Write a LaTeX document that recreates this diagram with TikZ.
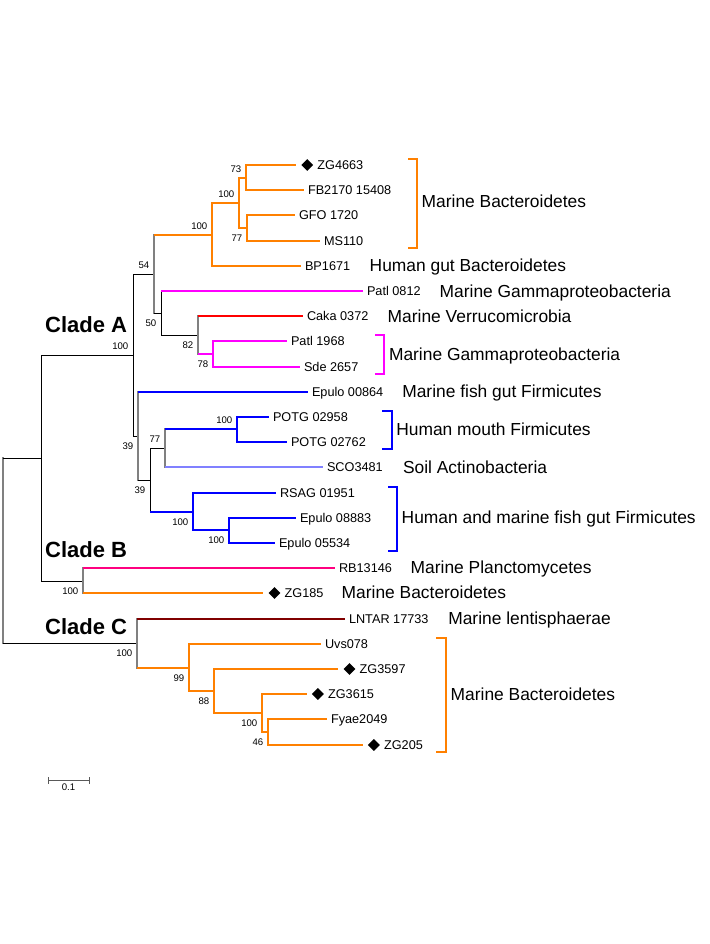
\documentclass[tikz,border=0pt]{standalone}
\usepackage{fontspec}
\setmainfont{Liberation Sans}
\usetikzlibrary{positioning, shapes.geometric}
\definecolor{brorange}{RGB}{255,128,0}
\definecolor{brmagenta}{RGB}{255,0,255}
\definecolor{brred}{RGB}{255,0,0}
\definecolor{brblue}{RGB}{0,0,255}
\definecolor{brlight}{RGB}{128,128,255}
\definecolor{brpink}{RGB}{255,0,128}
\definecolor{brdark}{RGB}{128,0,0}
\definecolor{brgray}{RGB}{128,128,128}

\begin{document}
\begin{tikzpicture}[
     x = 1pt, y = -1pt,
     node distance = 0pt and 0pt,
      leaf/.style = {anchor=west, inner xsep=3.8pt, inner ysep=0pt,
                     text height=9pt, text depth=0pt,
                     font=\fontsize{12.7}{14}\selectfont},
     group/.style = {anchor=west, inner sep=0pt,
                     text height=12.5pt, text depth=0pt,
                     font=\fontsize{17.4}{20}\selectfont},
     clade/.style = {anchor=west, inner sep=0pt,
                     text height=15.8pt, text depth=0pt,
                     font=\bfseries\fontsize{22}{26}\selectfont},
       bsa/.style = {anchor=south east, inner sep=1.5pt, xshift=-3pt, yshift=4pt,
                     font=\fontsize{9.6}{11}\selectfont},
       bsb/.style = {anchor=north east, inner sep=1.5pt, xshift=-3pt, yshift=-5pt,
                     font=\fontsize{9.6}{11}\selectfont},
       dmd/.style = {diamond, fill=black, inner sep=0pt, minimum size=12pt, anchor=west},
        br/.style = {line width=2pt, draw=#1},
       blk/.style = {line width=1pt, draw=black, line cap=rect},
      vert/.style = {line width=1.4pt, draw=brgray, line cap=rect}
                        ]
\useasboundingbox (0,0) rectangle (709,944);

% inner nodes
\coordinate (root) at (3,550.5);
\coordinate (nab) at (41,458);
\coordinate (na) at (133,355);
\coordinate (nb) at (83,581);
\coordinate (nc) at (137,643);
\coordinate (n54) at (154,274);
\coordinate (n212) at (212,235);
\coordinate (n239) at (239,203);
\coordinate (n73) at (246,178);
\coordinate (n77a) at (247,228);
\coordinate (n50) at (161,313);
\coordinate (n82) at (198,335);
\coordinate (n78) at (213,354);
\coordinate (n39a) at (138,436);
\coordinate (n39b) at (150,480);
\coordinate (n77b) at (165,448);
\coordinate (npotg) at (237,429);
\coordinate (nrsag) at (193,512);
\coordinate (nep) at (229,530);
\coordinate (n99) at (189,668);
\coordinate (n88) at (214,691);
\coordinate (n100c) at (262,713);
\coordinate (n46) at (268,732);

% leaves
\node (dzg4663) [dmd] at (301,165) {};
\node (zg4663) [leaf, right=of dzg4663] {ZG4663};
\node (fb2170) [leaf] at (304,190) {FB2170 15408};
\node (gfo1720) [leaf] at (295,215) {GFO 1720};
\node (ms110) [leaf] at (320,241) {MS110};
\node (bp1671) [leaf] at (301,266) {BP1671};
\node (patl0812) [leaf] at (363,291) {Patl 0812};
\node (caka0372) [leaf] at (303,316) {Caka 0372};
\node (patl1968) [leaf] at (287,341) {Patl 1968};
\node (sde2657) [leaf] at (300,367) {Sde 2657};
\node (epulo00864) [leaf] at (308,392) {Epulo 00864};
\node (potg02958) [leaf] at (269,417) {POTG 02958};
\node (potg02762) [leaf] at (287,442) {POTG 02762};
\node (sco3481) [leaf] at (323,467) {SCO3481};
\node (rsag01951) [leaf] at (276,493) {RSAG 01951};
\node (epulo08883) [leaf] at (296,518) {Epulo 08883};
\node (epulo05534) [leaf] at (275,543) {Epulo 05534};
\node (rb13146) [leaf] at (335,568) {RB13146};
\node (dzg185) [dmd] at (268.3,593) {};
\node (zg185) [leaf, right=of dzg185] {ZG185};
\node (lntar) [leaf] at (345,619) {LNTAR 17733};
\node (uvs078) [leaf] at (321,644) {Uvs078};
\node (dzg3597) [dmd] at (343.3,669) {};
\node (zg3597) [leaf, right=of dzg3597] {ZG3597};
\node (dzg3615) [dmd] at (311.7,694) {};
\node (zg3615) [leaf, right=of dzg3615] {ZG3615};
\node (fyae2049) [leaf] at (327,719) {Fyae2049};
\node (dzg205) [dmd] at (367.7,745) {};
\node (zg205) [leaf, right=of dzg205] {ZG205};

% branches
\draw[vert] (root |- nab) -- (root |- nc);
\draw[blk] (root |- nab) -- (nab);
\draw[blk] (root |- nc) -- (nc);
\draw[blk] (nab) |- (na);
\draw[blk] (nab) |- (nb);
\draw[blk] (na) |- (n54);
\draw[blk] (na) |- (n39a);
\draw[vert] (n54 |- n212) -- (n54 |- n50);
\draw[br=brorange] (n54 |- n212) -- (n212);
\draw[blk] (n54 |- n50) -- (n50);
\draw[br=brorange] (n212) |- (n239);
\draw[br=brorange] (n212) |- (bp1671.west);
\draw[br=brorange] (n239) |- (n73);
\draw[br=brorange] (n239) |- (n77a);
\draw[br=brorange, shorten >=5pt] (n73) |- (dzg4663.west);
\draw[br=brorange] (n73) |- (fb2170.west);
\draw[br=brorange] (n77a) |- (gfo1720.west);
\draw[br=brorange] (n77a) |- (ms110.west);
\draw[blk] (n50 |- patl0812.west) -- (n50 |- n82) -- (n82);
\draw[br=brmagenta] (n50 |- patl0812.west) -- (patl0812.west);
\draw[vert] (n82 |- caka0372.west) -- (n82 |- n78);
\draw[br=brred] (n82 |- caka0372.west) -- (caka0372.west);
\draw[br=brmagenta] (n82 |- n78) -- (n78);
\draw[br=brmagenta] (n78) |- (patl1968.west);
\draw[br=brmagenta] (n78) |- (sde2657.west);
\draw[vert] (n39a |- epulo00864.west) -- (n39a |- n39b);
\draw[br=brblue] (n39a |- epulo00864.west) -- (epulo00864.west);
\draw[blk] (n39a |- n39b) -- (n39b);
\draw[blk] (n39b |- n77b) -- (n39b |- nrsag);
\draw[blk] (n39b |- n77b) -- (n77b);
\draw[br=brblue] (n39b |- nrsag) -- (nrsag);
\draw[vert] (n77b |- npotg) -- (n77b |- sco3481.west);
\draw[br=brblue] (n77b |- npotg) -- (npotg);
\draw[br=brlight] (n77b |- sco3481.west) -- (sco3481.west);
\draw[br=brblue] (npotg) |- (potg02958.west);
\draw[br=brblue] (npotg) |- (potg02762.west);
\draw[br=brblue] (nrsag) |- (rsag01951.west);
\draw[br=brblue] (nrsag) |- (nep);
\draw[br=brblue] (nep) |- (epulo08883.west);
\draw[br=brblue] (nep) |- (epulo05534.west);
\draw[vert] (nb |- rb13146.west) -- (nb |- dzg185.west);
\draw[br=brpink] (nb |- rb13146.west) -- (rb13146.west);
\draw[br=brorange, shorten >=5pt] (nb |- dzg185.west) -- (dzg185.west);
\draw[vert] (nc |- lntar.west) -- (nc |- n99);
\draw[br=brdark] (nc |- lntar.west) -- (lntar.west);
\draw[br=brorange] (nc |- n99) -- (n99);
\draw[br=brorange] (n99) |- (uvs078.west);
\draw[br=brorange] (n99) |- (n88);
\draw[br=brorange, shorten >=5pt] (n88) |- (dzg3597.west);
\draw[br=brorange] (n88) |- (n100c);
\draw[br=brorange, shorten >=5pt] (n100c) |- (dzg3615.west);
\draw[br=brorange] (n100c) |- (n46);
\draw[br=brorange] (n46) |- (fyae2049.west);
\draw[br=brorange, shorten >=5pt] (n46) |- (dzg205.west);

% bootstrap values
\node (b73) [bsa] at (n73) {73};
\node (b239) [bsa] at (n239) {100};
\node (b212) [bsa] at (n212) {100};
\node (b54) [bsa] at (n54) {54};
\node (ba) [bsa] at (na) {100};
\node (b77b) [bsa] at (n77b) {77};
\node (bpotg) [bsa] at (npotg) {100};
\node (b77a) [bsb] at (n77a) {77};
\node (b50) [bsb] at (n50) {50};
\node (b82) [bsb] at (n82) {82};
\node (b78) [bsb] at (n78) {78};
\node (b39a) [bsb] at (n39a) {39};
\node (b39b) [bsb] at (n39b) {39};
\node (brsag) [bsb] at (nrsag) {100};
\node (bep) [bsb] at (nep) {100};
\node (bb) [bsb] at (nb) {100};
\node (bc) [bsb] at (nc) {100};
\node (b99) [bsb] at (n99) {99};
\node (b88) [bsb] at (n88) {88};
\node (b100c) [bsb] at (n100c) {100};
\node (b46) [bsb] at (n46) {46};

% clades
\node (cladea) [clade] at (45,325) {Clade A};
\node (cladeb) [clade] at (45,549.3) {Clade B};
\node (cladec) [clade] at (45,626.7) {Clade C};

% groups
\draw[br=brorange] (408,159) -- (417,159) -- (417,248) -- (408,248);
\draw[br=brmagenta] (375,335) -- (384,335) -- (384,374) -- (375,374);
\draw[br=brblue] (382,411) -- (392,411) -- (392,449) -- (382,449);
\draw[br=brblue] (388,487) -- (397,487) -- (397,551) -- (388,551);
\draw[br=brorange] (436,638) -- (446,638) -- (446,752) -- (436,752);
\node (gbacta) [group] at (421.5,201.7) {Marine Bacteroidetes};
\node (ggut) [group] at (369.5,265.7) {Human gut Bacteroidetes};
\node (ggama) [group] at (439.5,291.3) {Marine Gammaproteobacteria};
\node (gverr) [group] at (387.5,316) {Marine Verrucomicrobia};
\node (ggamb) [group] at (388.8,354) {Marine Gammaproteobacteria};
\node (gfish) [group] at (402.1,391.7) {Marine fish gut Firmicutes};
\node (gmouth) [group] at (396.1,429) {Human mouth Firmicutes};
\node (gsoil) [group] at (402.8,467.3) {Soil Actinobacteria};
\node (ghum) [group] at (401.5,517.3) {Human and marine fish gut Firmicutes};
\node (gplanc) [group] at (410.5,567.3) {Marine Planctomycetes};
\node (gbactb) [group] at (341.5,592.7) {Marine Bacteroidetes};
\node (glent) [group] at (448.1,618.3) {Marine lentisphaerae};
\node (gbactc) [group] at (450.5,694) {Marine Bacteroidetes};

% scale bar
\coordinate (sbl) at (48,780.5);
\coordinate (sbr) at (89,780.5);
\coordinate (sbm) at (68.5,780.5);
\draw[line width=1pt, black!65] (sbl) -- (sbr);
\draw[line width=1pt, black!65] ([yshift=3.5pt]sbl) -- ([yshift=-3.5pt]sbl);
\draw[line width=1pt, black!65] ([yshift=3.5pt]sbr) -- ([yshift=-3.5pt]sbr);
\node (sblab) [below=3.5pt of sbm, inner sep=0pt, font=\fontsize{9.6}{11}\selectfont] {0.1};
\end{tikzpicture}
\end{document}
